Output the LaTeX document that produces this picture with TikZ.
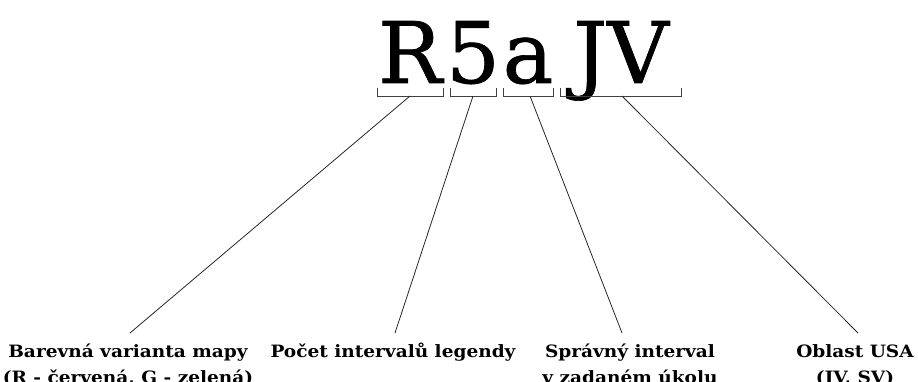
\documentclass[tikz,border=0pt]{standalone}
\usepackage{fontspec}
\setmainfont{DejaVu Serif}
\newfontfamily\codefont{DejaVu Serif}[FakeBold=0.8]
\newfontfamily\notefont{DejaVu Serif}[FakeStretch=1.09]
\begin{document}
\begin{tikzpicture}[x=1pt,y=-1pt,
  glyph/.style={font=\codefont\fontsize{85}{90}\selectfont, inner sep=0pt, anchor=base},
  label/.style={font=\notefont\bfseries\fontsize{17}{26}\selectfont, align=center, inner sep=0pt, anchor=base},
  brace/.style={draw=black!75, line width=0.9pt},
  link/.style={draw=black!85, line width=0.8pt}]
\useasboundingbox (0,0) rectangle (918,382);
\clip (0,0) rectangle (918,382);

% the code word, letter by letter
\node[glyph] (cR) at (410,83) {R};
\node[glyph] (c5) at (473,83) {5};
\node[glyph] (ca) at (528,83) {a};
\node[glyph] (cJV) at (621,83) {JV};

% brackets under each part of the code
\draw[brace] (377,88) |- (443,96) -- (443,88);
\draw[brace] (450,88) |- (496,96) -- (496,88);
\draw[brace] (503,88) |- (553,96) -- (553,88);
\draw[brace] (560,88) |- (681,96) -- (681,88);
\coordinate (b1) at (410,96);
\coordinate (b2) at (473,96);
\coordinate (b3) at (530,96);
\coordinate (b4) at (622,96);

% explanations (base anchor of a two-line node is its last line)
\node[label] (l1) at (128,383) {Barevná varianta mapy\\(R - červená, G - zelená)};
\node[label] (l2) at (393,357) {Počet intervalů legendy};
\node[label] (l3) at (630,383) {Správný interval\\v zadaném úkolu};
\node[label] (l4) at (855,383) {Oblast USA\\(JV, SV)};
\coordinate (e1) at (130,333);
\coordinate (e2) at (395,333);
\coordinate (e3) at (622,333);
\coordinate (e4) at (858,333);

\draw[link] (b1) -- (e1);
\draw[link] (b2) -- (e2);
\draw[link] (b3) -- (e3);
\draw[link] (b4) -- (e4);
\end{tikzpicture}
\end{document}
